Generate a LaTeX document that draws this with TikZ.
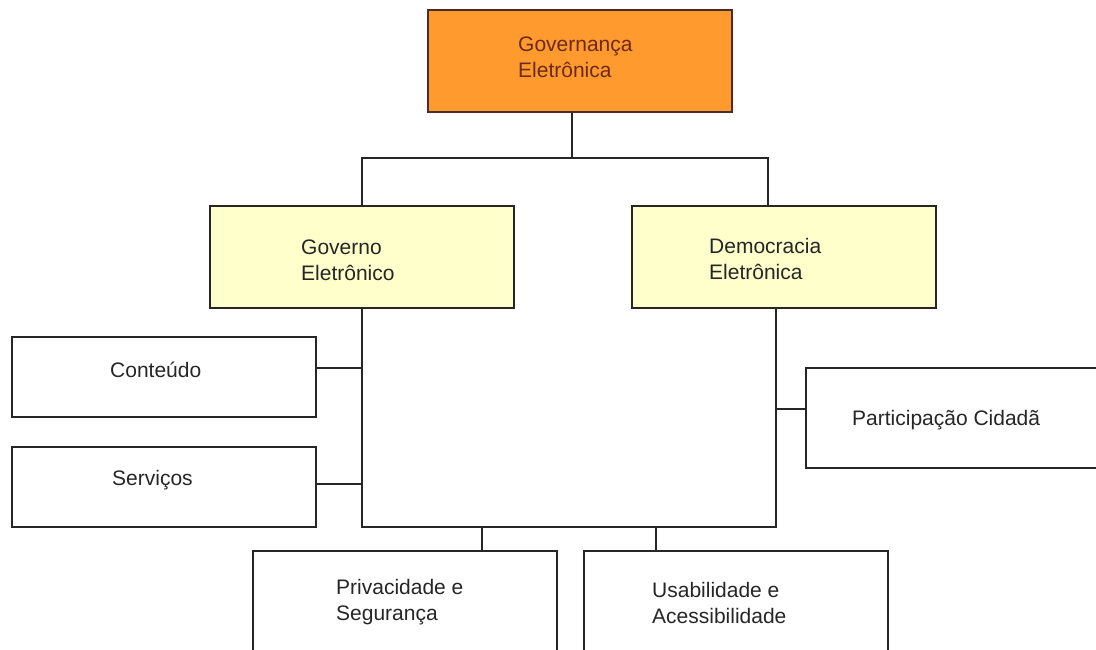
\documentclass[tikz,border=0pt]{standalone}
\usepackage{fontspec}
\setmainfont{Liberation Sans}
\usepackage{tikz}
\usetikzlibrary{positioning, calc}
\definecolor{govorange}{HTML}{FF9A2E}
\definecolor{govbrown}{HTML}{4D2B2B}
\definecolor{govtext}{HTML}{6B2A1A}
\definecolor{subyellow}{HTML}{FFFFCC}
\definecolor{lineg}{HTML}{262626}

\begin{document}
\begin{tikzpicture}[
  x=1pt, y=-1pt,
  topbox/.style={draw=govbrown, line width=1.4pt, fill=govorange, minimum width=304pt, minimum height=102pt, inner sep=0pt},
  midbox/.style={draw=lineg, line width=1.4pt, fill=subyellow, minimum width=304pt, minimum height=102pt, inner sep=0pt},
  leafbox/.style={draw=lineg, line width=1.4pt, fill=white, minimum width=304pt, minimum height=80pt, inner sep=0pt},
  lbl/.style={anchor=west, inner sep=0pt, align=left, text=black!85, font=\fontsize{21}{26}\selectfont},
  link/.style={draw=lineg, line width=1.4pt}
]
\clip (0,0) rectangle (1096,649);
\fill[white] (0,0) rectangle (1096,649);

\node[topbox] (gov) at (580,61) {};
\node[lbl, text=govtext] (govtxt) at (518,57) {Governança\\Eletrônica};

\node[midbox] (egov) at (362,257) {};
\node[lbl] (egovtxt) at (301,260) {Governo\\Eletrônico};
\node[midbox] (edem) at (784,257) {};
\node[lbl] (edemtxt) at (709,259) {Democracia\\Eletrônica};

\node[leafbox] (cont) at (164,377) {};
\node[lbl] (conttxt) at (110,370) {Conteúdo};
\node[leafbox] (serv) at (164,487) {};
\node[lbl] (servtxt) at (112,480) {Serviços};

\node[leafbox, minimum height=100pt] (part) at (958,418) {};
\node[lbl] (parttxt) at (852,420) {Participação Cidadã};

\node[leafbox, minimum height=100pt] (priv) at (405,601) {};
\node[lbl] (privtxt) at (336,602) {Privacidade e\\Segurança};
\node[leafbox, minimum height=100pt] (usab) at (736,601) {};
\node[lbl] (usabtxt) at (652,603) {Usabilidade e\\Acessibilidade};

% top split
\coordinate (split) at (572,158);
\draw[link] (split |- gov.south) -- (split);
\draw[link] (egov.north) |- (split) -| ([xshift=-16pt]edem.north);

% lower bus
\coordinate (busl) at (362,527);
\coordinate (busr) at (776,527);
\draw[link] (egov.south) -- (busl) -- (busr) -- (busr |- edem.south);
\draw[link] ([yshift=9pt]cont.east) -- ([yshift=9pt]cont.east -| busl);
\draw[link] ([yshift=3pt]serv.east) -- ([yshift=3pt]serv.east -| busl);
\draw[link] ([yshift=9pt]part.west) -- ([yshift=9pt]part.west -| busr);
\draw[link] ([xshift=77pt]priv.north) -- ([xshift=77pt]priv.north |- busl);
\draw[link] ([xshift=-80pt]usab.north) -- ([xshift=-80pt]usab.north |- busl);
\end{tikzpicture}
\end{document}
